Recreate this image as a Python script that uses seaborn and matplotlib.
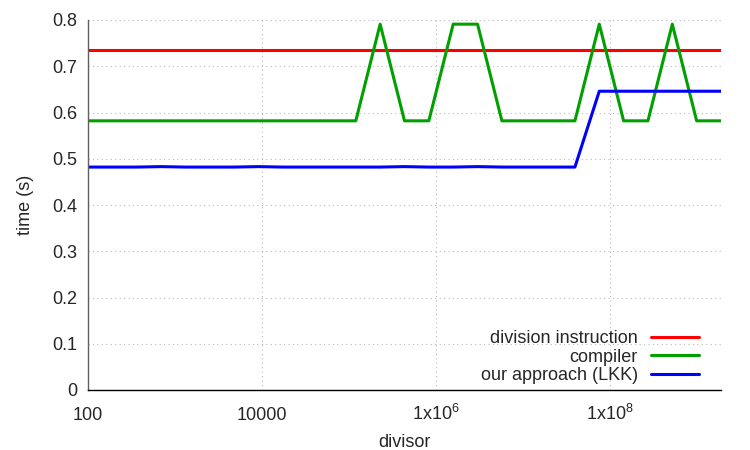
import matplotlib
matplotlib.use("Agg")
import matplotlib.pyplot as plt
import matplotlib.ticker as mticker
import numpy as np
import pandas as pd
import seaborn as sns

# ---- data ----
divisors = [100, 190, 363, 691, 1316, 2506, 4773, 9091, 17316, 32980, 62806,
            119600, 227800, 433900, 826400, 1574000, 2998000, 5710000,
            10880000, 20710000, 39450000, 75140000, 143100000, 272500000,
            519000000, 988600000, 1883000000]
division_instruction = [0.735] * 27
compiler = [0.582, 0.582, 0.582, 0.582, 0.582, 0.582, 0.582, 0.582, 0.582, 0.582, 0.582,
            0.582, 0.791, 0.582, 0.582, 0.791, 0.791, 0.582, 0.582, 0.582, 0.582,
            0.791, 0.582, 0.582, 0.791, 0.582, 0.582]
our_approach = [0.482, 0.482, 0.482, 0.483, 0.482, 0.482, 0.482, 0.483, 0.482, 0.482, 0.482,
                0.482, 0.482, 0.483, 0.482, 0.482, 0.483, 0.482, 0.482, 0.482, 0.482,
                0.646, 0.646, 0.646, 0.646, 0.646, 0.646]
series_names = ["division instruction", "compiler", "our approach (LKK)"]
series_colors = ["#ff0000", "#00a000", "#0000ff"]
xtick_values = [100, 1e4, 1e6, 1e8]
xtick_labels = ["100", "10000", r"1x10$^{6}$", r"1x10$^{8}$"]
ytick_values = [0, 0.1, 0.2, 0.3, 0.4, 0.5, 0.6, 0.7, 0.8]

df = pd.DataFrame({
    "divisor": divisors * 3,
    "time": division_instruction + compiler + our_approach,
    "series": [series_names[0]] * len(divisors) + [series_names[1]] * len(divisors)
              + [series_names[2]] * len(divisors),
})

sns.set_style("white")
plt.rcParams["font.family"] = ["Liberation Sans", "DejaVu Sans"]
plt.rcParams["font.size"] = 13
plt.rcParams["mathtext.fontset"] = "custom"
plt.rcParams["mathtext.rm"] = "Liberation Sans"
plt.rcParams["mathtext.it"] = "Liberation Sans"

fig = plt.figure(figsize=(7.5, 4.5), dpi=100)
ax = fig.add_axes([88 / 750, 1 - 390 / 450, (721 - 88) / 750, (390 - 20) / 450])

sns.lineplot(data=df, x="divisor", y="time", hue="series",
             palette=dict(zip(series_names, series_colors)),
             hue_order=series_names, linewidth=2.2, ax=ax, legend=True)

ax.set_xscale("log")
ax.set_xlim(divisors[0], divisors[-1])
ax.set_ylim(0, 0.8)
ax.xaxis.set_major_locator(mticker.FixedLocator(xtick_values))
ax.xaxis.set_major_formatter(mticker.FixedFormatter(xtick_labels))
ax.xaxis.set_minor_locator(mticker.NullLocator())
ax.set_yticks(ytick_values)
ax.yaxis.set_major_formatter(mticker.FuncFormatter(lambda v, p: "%g" % v))

ax.grid(True, which="major", linestyle=(0, (1, 3)), color="#b8b8b8", linewidth=0.8)
ax.set_axisbelow(True)
ax.tick_params(direction="in", length=5, width=0.8, color="#333333", labelsize=13)
ax.tick_params(axis="y", pad=8)
ax.tick_params(axis="x", pad=21.5)
for lab in ax.get_xticklabels():
    lab.set_verticalalignment("baseline")
for s in ["top", "right"]:
    ax.spines[s].set_visible(False)
ax.spines["left"].set_color("#606060")
ax.spines["bottom"].set_color("#000000")
ax.spines["left"].set_linewidth(1.0)
ax.spines["bottom"].set_linewidth(1.0)

ax.set_xlabel("divisor", fontsize=13, labelpad=7)
ax.set_ylabel("time (s)", fontsize=13, labelpad=13)

handles, labels = ax.get_legend_handles_labels()
ax.legend(handles, labels, loc="lower right", bbox_to_anchor=(0.985, -0.018),
          markerfirst=False, frameon=False, handlelength=2.67, handletextpad=0.72,
          labelspacing=0.08, fontsize=13, borderaxespad=0.3)

fig.savefig("out.png", dpi=100)
